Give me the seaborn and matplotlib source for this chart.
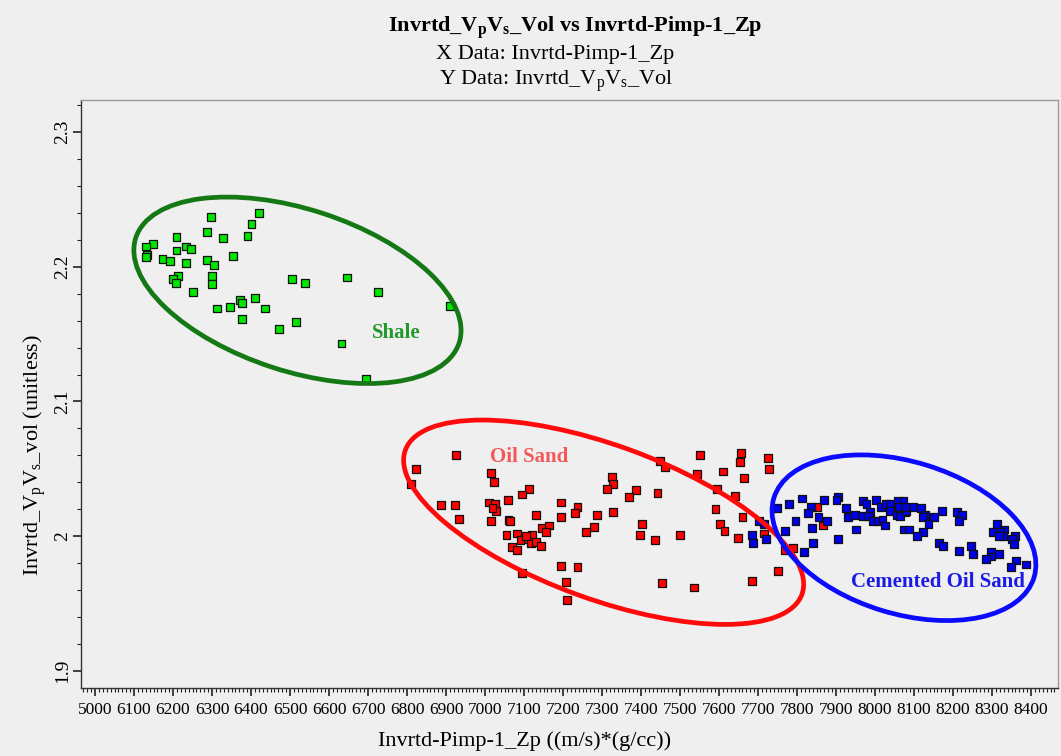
import numpy as np
import pandas as pd
import matplotlib
matplotlib.use("Agg")
import matplotlib.pyplot as plt
import seaborn as sns
from matplotlib.patches import Ellipse
from matplotlib.transforms import ScaledTranslation
from matplotlib.ticker import FixedLocator, MultipleLocator

# ---------------- data ----------------
shale_zp = [6297, 6421, 6401, 6287, 6391, 6209, 6327, 6148, 6131, 6209, 6233, 6245,
            6353, 6134, 6131, 6173, 6193, 6233, 6287, 6304, 6213, 6200, 6207, 6300,
            6300, 6505, 6538, 6251, 6372, 6376, 6411, 6313, 6346, 6436, 6376, 6472,
            6515, 6646, 6726, 6911, 6632, 6694]
shale_vpvs = [2.237, 2.240, 2.232, 2.226, 2.223, 2.222, 2.221, 2.217, 2.215, 2.212, 2.215, 2.213,
              2.208, 2.209, 2.207, 2.206, 2.204, 2.203, 2.205, 2.201, 2.193, 2.191, 2.188, 2.193,
              2.187, 2.191, 2.188, 2.181, 2.175, 2.173, 2.177, 2.169, 2.170, 2.169, 2.161, 2.154,
              2.159, 2.192, 2.181, 2.171, 2.143, 2.117]

oil_zp = [6925, 6824, 6811, 7016, 7022, 7113, 7094, 7058, 6886, 6922, 7010, 7026,
          7029, 7019, 6934, 7015, 7060, 7065, 7130, 7195, 7237, 7230, 7195, 7286,
          7279, 7259, 7055, 7081, 7147, 7165, 7156, 7120, 7106, 7091, 7117, 7130,
          7143, 7070, 7081, 7105, 7094, 7194, 7237, 7208, 7209, 7552, 7656, 7653,
          7725, 7728, 7611, 7663, 7543, 7448, 7462, 7325, 7328, 7312, 7387, 7368,
          7442, 7595, 7640, 7591, 7660, 7328, 7403, 7397, 7435, 7500, 7602, 7614,
          7649, 7715, 7768, 7751, 7685, 7454, 7536, 7852, 7867, 7790]
oil_vpvs = [2.060, 2.050, 2.039, 2.047, 2.040, 2.035, 2.031, 2.027, 2.023, 2.023, 2.025, 2.024,
            2.019, 2.021, 2.013, 2.011, 2.012, 2.011, 2.016, 2.025, 2.022, 2.017, 2.014, 2.016,
            2.007, 2.003, 2.001, 2.002, 2.006, 2.008, 2.003, 2.001, 1.998, 1.997, 1.995, 1.996,
            1.993, 1.992, 1.990, 2.000, 1.973, 1.978, 1.977, 1.966, 1.953, 2.060, 2.062, 2.055,
            2.058, 2.050, 2.048, 2.043, 2.046, 2.056, 2.051, 2.044, 2.039, 2.035, 2.034, 2.029,
            2.032, 2.035, 2.030, 2.020, 2.014, 2.018, 2.009, 2.001, 1.997, 2.001, 2.009, 2.004,
            1.999, 2.002, 1.990, 1.974, 1.967, 1.965, 1.962, 2.022, 2.008, 1.991]

cem_zp = [7812, 7870, 7906, 7901, 7780, 7836, 7829, 7855, 7877, 7796, 7839, 7748,
          7926, 7930, 7949, 7950, 7906, 7840, 7818, 7770, 7721, 7715, 7703, 7685,
          7686, 7970, 7978, 8003, 8016, 8029, 8039, 8058, 8073, 8061, 8039, 8056,
          8077, 7988, 7970, 7981, 7994, 8007, 8019, 8025, 8064, 8073, 8088, 8098,
          8118, 8080, 8128, 8123, 8152, 8171, 8137, 8122, 8108, 8210, 8223, 8216,
          8163, 8174, 8215, 8246, 8251, 8313, 8330, 8303, 8320, 8327, 8318, 8359,
          8352, 8356, 8297, 8317, 8297, 8284, 8362, 8348, 8388, 8078]
cem_vpvs = [2.028, 2.027, 2.029, 2.027, 2.024, 2.022, 2.017, 2.014, 2.011, 2.011, 2.006, 2.021,
            2.021, 2.014, 2.016, 2.005, 1.998, 1.995, 1.988, 2.004, 1.998, 2.009, 2.011, 2.001,
            1.995, 2.026, 2.024, 2.027, 2.022, 2.024, 2.024, 2.026, 2.026, 2.022, 2.019, 2.016,
            2.018, 2.018, 2.015, 2.015, 2.011, 2.011, 2.012, 2.008, 2.015, 2.005, 2.005, 2.022,
            2.021, 2.019, 2.016, 2.014, 2.014, 2.019, 2.009, 2.003, 2.000, 2.018, 2.016, 2.011,
            1.995, 1.993, 1.989, 1.993, 1.987, 2.009, 2.005, 2.003, 2.003, 2.000, 2.000, 2.000,
            1.998, 1.994, 1.988, 1.987, 1.985, 1.983, 1.982, 1.977, 1.979, 2.022]

facies_names = ["Shale", "Oil Sand", "Cemented Oil Sand"]
x_ticks = [6000, 6100, 6200, 6300, 6400, 6500, 6600, 6700, 6800, 6900, 7000, 7100, 7200,
           7300, 7400, 7500, 7600, 7700, 7800, 7900, 8000, 8100, 8200, 8300, 8400]
x_tick_labels = ["5000", "6100", "6200", "6300", "6400", "6500", "6600", "6700", "6800",
                 "6900", "7000", "7100", "7200", "7300", "7400", "7500", "7600", "7700",
                 "7800", "7900", "8000", "8100", "8200", "8300", "8400"]
y_ticks = [1.9, 2.0, 2.1, 2.2, 2.3]
y_tick_labels = ["1.9", "2", "2.1", "2.2", "2.3"]

# zone annotations: label position (data), ellipse centre (data), semi-axes (px), tilt (deg)
label_pos = [(6772, 2.151), (7114, 2.059), (8160, 1.966)]
ell_center = [(6519, 2.1825), (7304, 2.0104), (8074, 1.9989)]
ell_axes = [(170, 81), (211, 77), (136, 76)]
ell_tilt = [-18, -20, -17]

# ---------------- style ----------------
marker_colors = {"Shale": "#00e600", "Oil Sand": "#ff0000", "Cemented Oil Sand": "#0000e8"}
ell_colors = ["#147814", "#ff0a0a", "#0a0aff"]
text_colors = ["#22992a", "#f25a5a", "#1a1ae6"]
bg = "#efefef"

sns.set_theme(style="white")
plt.rcParams['font.family'] = ['Liberation Serif', 'DejaVu Serif']
plt.rcParams['mathtext.fontset'] = 'custom'
plt.rcParams['mathtext.rm'] = 'Liberation Serif'
plt.rcParams['mathtext.it'] = 'Liberation Serif:italic'
plt.rcParams['mathtext.bf'] = 'Liberation Serif:bold'
plt.rcParams['mathtext.default'] = 'regular'
plt.rcParams['text.color'] = 'black'
plt.rcParams['axes.labelcolor'] = 'black'
plt.rcParams['xtick.color'] = 'black'
plt.rcParams['ytick.color'] = 'black'

df = pd.DataFrame({
    "zp": shale_zp + oil_zp + cem_zp,
    "vpvs": shale_vpvs + oil_vpvs + cem_vpvs,
    "facies": ["Shale"] * len(shale_zp) + ["Oil Sand"] * len(oil_zp) + ["Cemented Oil Sand"] * len(cem_zp),
})

fig = plt.figure(figsize=(10.61, 7.56), dpi=100, facecolor=bg)
ax = fig.add_axes([81 / 1061, 1 - 688 / 756, (1058 - 81) / 1061, (688 - 100) / 756])
ax.set_facecolor(bg)

sns.scatterplot(data=df, x="zp", y="vpvs", hue="facies", palette=marker_colors,
                hue_order=facies_names, marker="s", s=32, edgecolor="#111111",
                linewidth=0.9, legend=False, ax=ax, zorder=3)

ax.set_xlim(5964, 8469)
ax.set_ylim(1.8874, 2.3237)

# ellipses (drawn in pixel-size units, anchored at data centres)
for (cx, cy), (a, b), ang, col in zip(ell_center, ell_axes, ell_tilt, ell_colors):
    tr = fig.dpi_scale_trans + ScaledTranslation(cx, cy, ax.transData)
    e = Ellipse((0, 0), width=2 * a / 100, height=2 * b / 100, angle=ang,
                transform=tr, fill=False, edgecolor=col, linewidth=3.4, zorder=4)
    ax.add_patch(e)

for name, (lx, ly), col in zip(facies_names, label_pos, text_colors):
    ax.text(lx, ly, name, color=col, fontsize=15, fontweight="bold",
            ha="center", va="center", zorder=5)

# ticks
ax.xaxis.set_major_locator(FixedLocator(x_ticks))
ax.set_xticklabels(x_tick_labels)
ax.xaxis.set_minor_locator(MultipleLocator(10))
ax.yaxis.set_major_locator(FixedLocator(y_ticks))
ax.set_yticklabels(y_tick_labels)
ax.yaxis.set_minor_locator(MultipleLocator(0.02))
ax.tick_params(axis="x", which="major", direction="out", length=6, width=1.2,
               labelsize=12.5, pad=4, bottom=True, color="#222222")
ax.tick_params(axis="x", which="minor", direction="out", length=3, width=0.8,
               bottom=True, color="#222222")
ax.tick_params(axis="y", which="major", direction="out", length=6, width=1.2,
               labelsize=14, pad=1, left=True, color="#222222")
ax.tick_params(axis="y", which="minor", direction="out", length=3, width=0.8,
               left=True, color="#222222")
for lab in ax.get_yticklabels():
    lab.set_rotation(90)
    lab.set_va("center")
    lab.set_ha("right")

for side in ["left", "bottom"]:
    ax.spines[side].set_color("#333333")
    ax.spines[side].set_linewidth(1.0)
for side in ["right", "top"]:
    ax.spines[side].set_color("#9a9a9a")
    ax.spines[side].set_linewidth(1.0)

ax.set_xlabel("Invrtd-Pimp-1_Zp ((m/s)*(g/cc))", fontsize=16)
ax.set_ylabel(r"Invrtd_V$_p$V$_s$_vol (unitless)", fontsize=16)
ax.xaxis.set_label_coords((525 - 81) / 977, -(731 - 688) / 588)
ax.yaxis.set_label_coords((48 - 81) / 977, (688 - 455) / 588)

fig.text(575 / 1061, 1 - 28 / 756, r"Invrtd_V$_p$V$_s$_Vol vs Invrtd-Pimp-1_Zp",
         ha="center", va="center", fontsize=16, fontweight="bold")
fig.text(555 / 1061, 1 - 55 / 756, "X Data: Invrtd-Pimp-1_Zp", ha="center", va="center", fontsize=16)
fig.text(556 / 1061, 1 - 81 / 756, r"Y Data: Invrtd_V$_p$V$_s$_Vol", ha="center", va="center", fontsize=16)

fig.savefig("out.png", dpi=100, facecolor=bg)
